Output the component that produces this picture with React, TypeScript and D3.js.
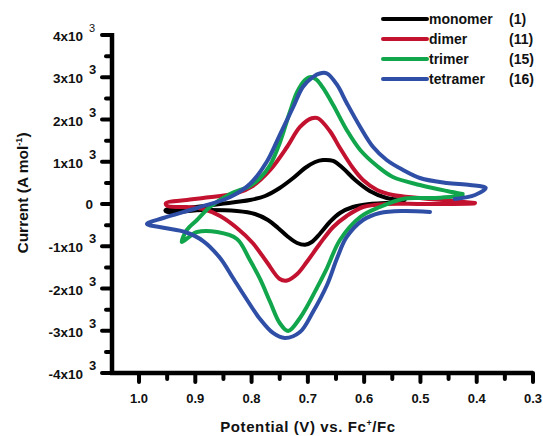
import React from "react";
import * as d3 from "d3";

type Pt = [number, number];

// Potential (V vs Fc+/Fc), Current (A mol^-1)
const monomer: Pt[] = [
  [0.531, 47], [0.56, 24], [0.59, 0], [0.62, -71], [0.643, -213], [0.661, -426], [0.679, -710],
  [0.693, -899], [0.705, -965], [0.719, -923], [0.737, -757], [0.753, -568], [0.771, -379],
  [0.794, -237], [0.826, -166], [0.886, -142], [0.95, -189], [0.953, -150],
  [0.915, -95], [0.856, 0], [0.803, 95], [0.776, 189], [0.75, 379], [0.726, 615], [0.705, 852],
  [0.687, 994], [0.673, 1041], [0.655, 1018], [0.638, 852], [0.616, 568], [0.59, 308],
  [0.56, 142], [0.528, 95],
];

const dimer: Pt[] = [
  [0.405, 10], [0.442, 0], [0.501, 0], [0.56, 0], [0.602, -71], [0.631, -284], [0.655, -544],
  [0.679, -947], [0.702, -1373], [0.719, -1657], [0.737, -1810], [0.75, -1775], [0.773, -1373],
  [0.798, -923], [0.826, -568], [0.856, -284], [0.886, -118], [0.915, -71], [0.95, -47],
  [0.952, 24], [0.915, 95], [0.886, 142], [0.826, 260], [0.798, 426], [0.767, 805], [0.737, 1349],
  [0.714, 1823], [0.693, 2030], [0.682, 2030], [0.661, 1728], [0.643, 1326], [0.62, 852],
  [0.602, 568], [0.577, 331], [0.549, 213], [0.501, 142], [0.442, 71], [0.403, 24],
];

const trimer: Pt[] = [
  [0.425, 200], [0.465, 150], [0.501, 142], [0.531, 118], [0.572, -71], [0.607, -308],
  [0.643, -852], [0.666, -1515], [0.684, -1988], [0.702, -2438], [0.714, -2698],
  [0.735, -3006], [0.75, -2817], [0.767, -2320], [0.785, -1775], [0.803, -1326],
  [0.826, -828], [0.861, -663], [0.897, -663], [0.909, -757], [0.924, -900],
  [0.915, -615], [0.897, -379], [0.874, -71], [0.838, 237], [0.803, 426], [0.785, 615],
  [0.767, 923], [0.75, 1444], [0.732, 2178], [0.719, 2651], [0.705, 2935], [0.694, 3006],
  [0.684, 2935], [0.673, 2746], [0.655, 2343], [0.631, 1752], [0.607, 1278], [0.577, 899],
  [0.549, 639], [0.501, 450], [0.453, 308], [0.425, 237],
];

const tetramer: Pt[] = [
  [0.483, -189], [0.531, -166], [0.572, -213], [0.602, -379], [0.631, -781], [0.648, -1278],
  [0.666, -1917], [0.691, -2556], [0.714, -3030], [0.741, -3172], [0.762, -3053],
  [0.785, -2722], [0.808, -2272], [0.833, -1752], [0.856, -1278], [0.886, -876], [0.918, -663],
  [0.954, -568], [0.986, -473],
  [0.957, -331], [0.897, -95], [0.838, 166], [0.803, 473], [0.773, 1000], [0.75, 1633],
  [0.726, 2296], [0.709, 2769], [0.691, 3006], [0.679, 3090], [0.666, 3090], [0.648, 2817],
  [0.631, 2391], [0.607, 1823], [0.584, 1349], [0.56, 1041], [0.531, 805], [0.501, 615],
  [0.453, 497], [0.412, 450], [0.384, 379], [0.403, 213], [0.439, 118],
];

const seriesNames = ["monomer", "dimer", "trimer", "tetramer"];
const seriesNums = ["(1)", "(11)", "(15)", "(16)"];
const seriesColors = ["#000000", "#c3122f", "#12a64c", "#2f4fa6"];
const seriesData = [monomer, dimer, trimer, tetramer];

const xMajorTicks = [1.0, 0.9, 0.8, 0.7, 0.6, 0.5, 0.4, 0.3];
const xTickLabels = ["1.0", "0.9", "0.8", "0.7", "0.6", "0.5", "0.4", "0.3"];
const yMajorTicks = [-4000, -3000, -2000, -1000, 0, 1000, 2000, 3000, 4000];
const yTickLabels = ["-4x10", "-3x10", "-2x10", "-1x10", "0", "1x10", "2x10", "3x10", "4x10"];

export default function App() {
  const W = 543, H = 436;
  const x = d3.scaleLinear().domain([1.048, 0.3]).range([112, 533]);
  const y = d3.scaleLinear().domain([-4000, 4000]).range([373, 35]);
  const line = d3
    .line<Pt>()
    .x((d) => x(d[0]))
    .y((d) => y(d[1]))
    .curve(d3.curveCatmullRom.alpha(0.5));

  const xMinor = d3.range(0.95, 0.3, -0.1).map((v) => +v.toFixed(2));
  const yMinor = d3.range(-3500, 4000, 1000);
  const font = "'Liberation Sans', Arial, sans-serif";
  const x0 = x.range()[0];
  const y0 = y.range()[0];

  return (
    <svg
      width={W}
      height={H}
      style={{ position: "absolute", left: 0, top: 0, background: "#fff" }}
      fontFamily={font}
      fontWeight="bold"
    >
      {/* curves */}
      {seriesData.map((d, i) => (
        <path
          key={i}
          d={line(d) || ""}
          fill="none"
          stroke={seriesColors[i]}
          strokeWidth={4}
          strokeLinejoin="round"
          strokeLinecap="round"
        />
      ))}

      {/* axes */}
      <line x1={x0} x2={x0} y1={y(4000) - 2} y2={y0} stroke="#000" strokeWidth={4.5} />
      <line x1={x0 - 2} x2={x(0.3)} y1={y0} y2={y0} stroke="#000" strokeWidth={4.5} />
      {xMajorTicks.map((t, i) => (
        <g key={"xt" + i}>
          <line x1={x(t)} x2={x(t)} y1={y0} y2={y0 + 9} stroke="#000" strokeWidth={4} strokeLinecap="round" />
          <text x={x(t)} y={y0 + 30} textAnchor="middle" fontSize={13} fill="#111">
            {xTickLabels[i]}
          </text>
        </g>
      ))}
      {xMinor.map((t, i) => (
        <line key={"xm" + i} x1={x(t)} x2={x(t)} y1={y0} y2={y0 + 6} stroke="#000" strokeWidth={4} strokeLinecap="round" />
      ))}
      {yMajorTicks.map((t, i) => (
        <g key={"yt" + i}>
          <line x1={x0} x2={x0 - 10} y1={y(t)} y2={y(t)} stroke="#000" strokeWidth={4} strokeLinecap="round" />
          {t === 0 ? (
            <text x={93} y={y(t) + 5} textAnchor="end" fontSize={13.5} fill="#111">
              {yTickLabels[i]}
            </text>
          ) : (
            <g>
              <text x={83} y={y(t) + 6} textAnchor="end" fontSize={13.5} fill="#111">
                {yTickLabels[i]}
              </text>
              <text x={89} y={y(t) - 3} fontSize={t === 4000 ? 11 : 13} fill="#111" fontWeight={t === 4000 ? "normal" : "bold"}>
                3
              </text>
            </g>
          )}
        </g>
      ))}
      {yMinor.map((t, i) => (
        <line key={"ym" + i} x1={x0} x2={x0 - 6} y1={y(t)} y2={y(t)} stroke="#000" strokeWidth={4} strokeLinecap="round" />
      ))}

      {/* axis titles */}
      <text
        transform={`translate(28,193) rotate(-90)`}
        textAnchor="middle"
        fontSize={15.5}
        fill="#111"
      >
        Current (A mol
        <tspan fontSize={9} dy={-6}>-1</tspan>
        <tspan dy={6}>)</tspan>
      </text>
      <text x={308} y={432} textAnchor="middle" fontSize={15} letterSpacing={0.6} fill="#111">
        Potential (V) vs. Fc
        <tspan fontSize={9} dy={-6}>+</tspan>
        <tspan dy={6}>/Fc</tspan>
      </text>

      {/* legend */}
      {seriesNames.map((n, i) => (
        <g key={"lg" + i}>
          <line x1={383} x2={427} y1={19 + i * 20} y2={19 + i * 20} stroke={seriesColors[i]} strokeWidth={4} strokeLinecap="round" />
          <text x={429} y={24 + i * 20} fontSize={14} fill="#111">
            {n}
          </text>
          <text x={509} y={24 + i * 20} fontSize={14} fill="#111">
            {seriesNums[i]}
          </text>
        </g>
      ))}
    </svg>
  );
}
